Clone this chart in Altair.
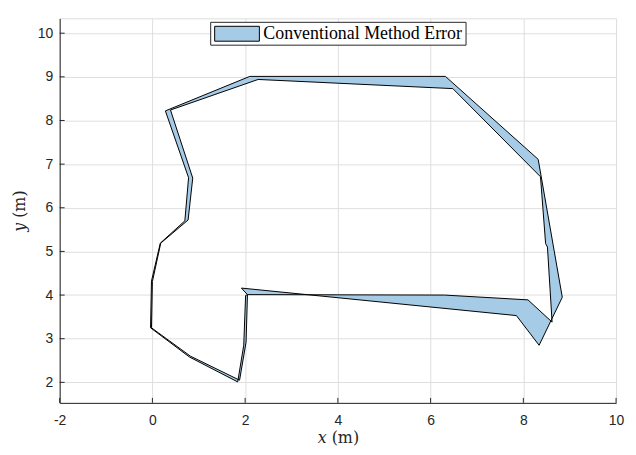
import altair as alt
import pandas as pd

# Reference trajectory (inner/straighter path), metres
ref_x = [2.05, 6.30, 8.10, 8.62, 8.52, 8.48, 8.37, 6.48, 2.28, 0.39, 0.87, 0.77, 0.18, 0.00, -0.02, 0.82, 1.88, 2.02, 2.05]
ref_y = [4.01, 4.00, 3.89, 3.38, 5.10, 5.18, 6.71, 8.73, 8.94, 8.24, 6.68, 5.72, 5.19, 4.31, 3.25, 2.60, 2.05, 2.92, 4.01]

# Conventional-method estimate, metres
est_x = [1.92, 7.85, 8.34, 8.84, 8.32, 6.32, 2.10, 0.28, 0.78, 0.70, 0.17, -0.02, -0.04, 0.80, 1.84, 1.97, 2.01]
est_y = [4.16, 3.53, 2.85, 3.95, 7.11, 9.01, 9.01, 8.22, 6.69, 5.70, 5.19, 4.32, 3.25, 2.58, 2.01, 2.85, 3.99]

x_ticks = [-2, 0, 2, 4, 6, 8, 10]
y_ticks = [2, 3, 4, 5, 6, 7, 8, 9, 10]
legend_label = ["Conventional Method Error"]

FILL = "#a6cbe6"
DARK = "#262626"
W, H = 560, 387

# error polygon: reference forward, estimate backward, closed
poly_x = ref_x + est_x[::-1] + [ref_x[0]]
poly_y = ref_y + est_y[::-1] + [ref_y[0]]
poly = pd.DataFrame({"x": poly_x, "y": poly_y, "i": list(range(len(poly_x)))})

xscale = alt.Scale(domain=[-2, 10], nice=False, zero=False)
yscale = alt.Scale(domain=[1.53, 10.34], nice=False, zero=False)

LBL = "replace(format(datum.value, 'd'), '\u2212', '-')"

xaxis = alt.Axis(values=x_ticks, title="𝑥 (m)", grid=True, gridColor="#dfdfdf",
                 ticks=False, tickSize=0, labelPadding=11, labelFlush=False, labelExpr=LBL,
                 labelFont="Liberation Sans", labelFontSize=14, labelColor=DARK,
                 domainColor=DARK, titleFont="DejaVu Serif", titleFontSize=16,
                 titleFontWeight="normal", titleColor=DARK, titleBaseline="middle", titleY=35)
yaxis = alt.Axis(values=y_ticks, title="𝑦 (m)", grid=True, gridColor="#dfdfdf",
                 ticks=False, tickSize=0, labelPadding=7, labelFlush=False, labelExpr=LBL,
                 labelFont="Liberation Sans", labelFontSize=14, labelColor=DARK,
                 domainColor=DARK, titleFont="DejaVu Serif", titleFontSize=16,
                 titleFontWeight="normal", titleColor=DARK, titleBaseline="middle", titleX=-40)

area = alt.Chart(poly).mark_line(fill=FILL, stroke="black", strokeWidth=1).encode(
    x=alt.X("x:Q", scale=xscale, axis=xaxis),
    y=alt.Y("y:Q", scale=yscale, axis=yaxis),
    order="i:Q",
)

xt = alt.Chart(pd.DataFrame({"x": x_ticks})).mark_rule(color=DARK, strokeWidth=1).encode(
    x=alt.X("x:Q", scale=xscale, axis=xaxis), y=alt.value(H), y2=alt.value(H - 5))
yt = alt.Chart(pd.DataFrame({"y": y_ticks})).mark_rule(color=DARK, strokeWidth=1).encode(
    y=alt.Y("y:Q", scale=yscale, axis=yaxis), x=alt.value(0), x2=alt.value(5))

leg_df = pd.DataFrame({"label": legend_label})
leg_box = alt.Chart(leg_df).mark_rect(fill="white", stroke=DARK, strokeWidth=1).encode(
    x=alt.value(152), x2=alt.value(409), y=alt.value(4), y2=alt.value(27))
leg_sw = alt.Chart(leg_df).mark_rect(fill=FILL, stroke="black", strokeWidth=1).encode(
    x=alt.value(156), x2=alt.value(201), y=alt.value(8), y2=alt.value(23))
leg_tx = alt.Chart(leg_df).mark_text(align="left", baseline="middle", font="Liberation Serif",
                                     fontSize=18, color="black").encode(
    x=alt.value(205), y=alt.value(16), text="label:N")

chart = alt.layer(area, xt, yt, leg_box, leg_sw, leg_tx).properties(
    width=W, height=H,
    padding={"left": 52, "top": 9, "right": 12, "bottom": 43},
    autosize=alt.AutoSizeParams(type="none"),
).configure_view(strokeWidth=0).configure(background="white")

chart.save("out.html", embed_options={"renderer": "svg", "actions": False})
